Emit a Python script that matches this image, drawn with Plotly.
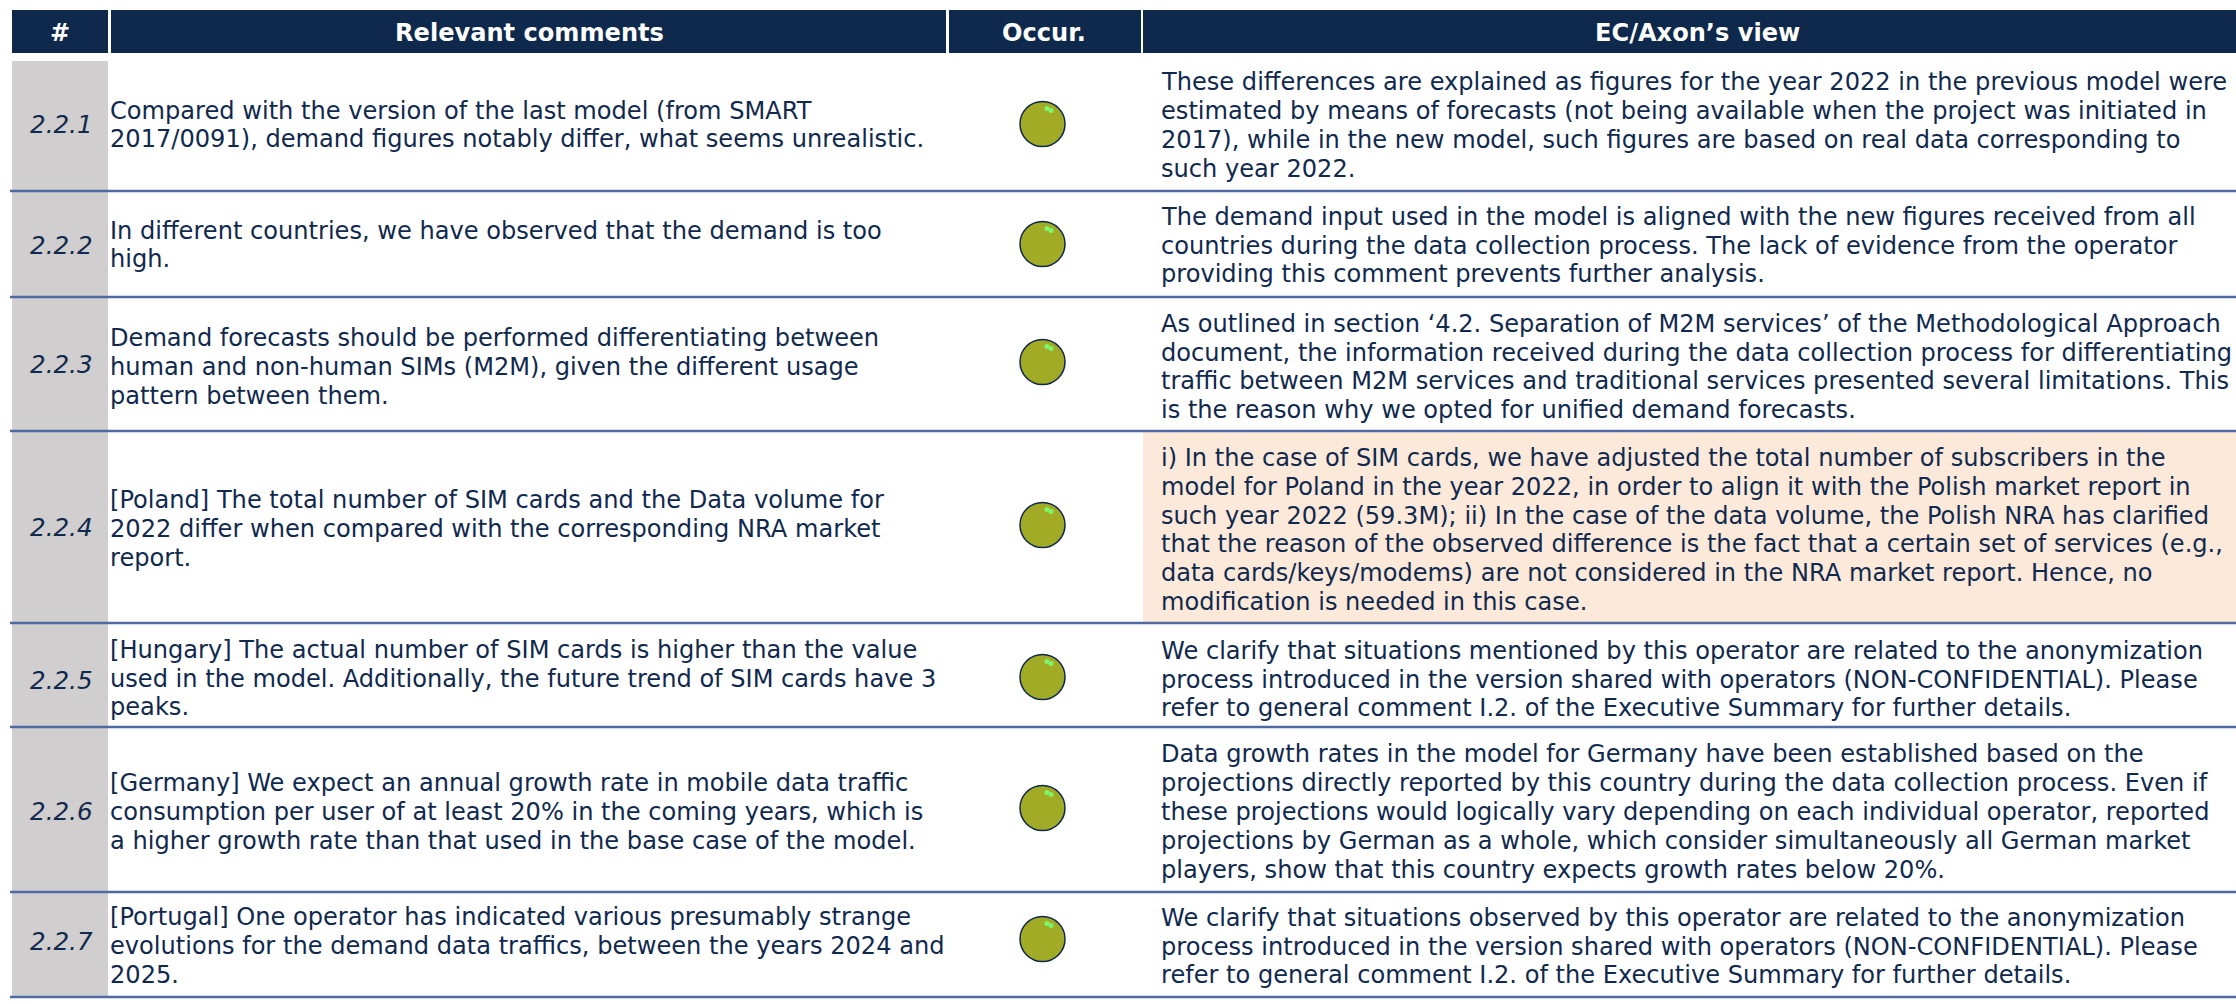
import plotly.graph_objects as go

# ---------- content ----------
headers = ["#", "Relevant comments", "Occur.", "EC/Axon’s view"]
ids = ["2.2.1", "2.2.2", "2.2.3", "2.2.4", "2.2.5", "2.2.6", "2.2.7"]
comments = [
    ["Compared with the version of the last model (from SMART",
     "2017/0091), demand figures notably differ, what seems unrealistic."],
    ["In different countries, we have observed that the demand is too",
     "high."],
    ["Demand forecasts should be performed differentiating between",
     "human and non-human SIMs (M2M), given the different usage",
     "pattern between them."],
    ["[Poland] The total number of SIM cards and the Data volume for",
     "2022 differ when compared with the corresponding NRA market",
     "report."],
    ["[Hungary] The actual number of SIM cards is higher than the value",
     "used in the model. Additionally, the future trend of SIM cards have 3",
     "peaks."],
    ["[Germany] We expect an annual growth rate in mobile data traffic",
     "consumption per user of at least 20% in the coming years, which is",
     "a higher growth rate than that used in the base case of the model."],
    ["[Portugal] One operator has indicated various presumably strange",
     "evolutions for the demand data traffics, between the years 2024 and",
     "2025."],
]
views = [
    ["These differences are explained as figures for the year 2022 in the previous model were",
     "estimated by means of forecasts (not being available when the project was initiated in",
     "2017), while in the new model, such figures are based on real data corresponding to",
     "such year 2022."],
    ["The demand input used in the model is aligned with the new figures received from all",
     "countries during the data collection process. The lack of evidence from the operator",
     "providing this comment prevents further analysis."],
    ["As outlined in section ‘4.2. Separation of M2M services’ of the Methodological Approach",
     "document, the information received during the data collection process for differentiating",
     "traffic between M2M services and traditional services presented several limitations. This",
     "is the reason why we opted for unified demand forecasts."],
    ["i) In the case of SIM cards, we have adjusted the total number of subscribers in the",
     "model for Poland in the year 2022, in order to align it with the Polish market report in",
     "such year 2022 (59.3M); ii) In the case of the data volume, the Polish NRA has clarified",
     "that the reason of the observed difference is the fact that a certain set of services (e.g.,",
     "data cards/keys/modems) are not considered in the NRA market report. Hence, no",
     "modification is needed in this case."],
    ["We clarify that situations mentioned by this operator are related to the anonymization",
     "process introduced in the version shared with operators (NON-CONFIDENTIAL). Please",
     "refer to general comment I.2. of the Executive Summary for further details."],
    ["Data growth rates in the model for Germany have been established based on the",
     "projections directly reported by this country during the data collection process. Even if",
     "these projections would logically vary depending on each individual operator, reported",
     "projections by German as a whole, which consider simultaneously all German market",
     "players, show that this country expects growth rates below 20%."],
    ["We clarify that situations observed by this operator are related to the anonymization",
     "process introduced in the version shared with operators (NON-CONFIDENTIAL). Please",
     "refer to general comment I.2. of the Executive Summary for further details."],
]
highlighted_view = ["2.2.4"]

# ---------- geometry (page pixels) ----------
W, H = 2236, 1004
HEAD_TOP, HEAD_BOTTOM = 10, 53
COLS = [(12, 108), (111, 946), (949, 1141), (1143, 2236)]
HEAD_X = [60, 529, 1044, 1697]
ROW_TOP = 61
ROW_LINES = [191, 297, 431, 623, 727, 892, 997]
ID_Y = [124, 245, 364, 527, 680, 811, 941]
COMMENT_Y = [125, 245, 367, 529, 678.5, 812, 946]
VIEW_Y = [125.5, 245.5, 367, 530, 679.5, 812, 946.5]
DOT_Y = [124, 244, 362, 525, 677, 808, 939]
DOT_X = 1042.5
TEXT_X_COMMENT, TEXT_X_VIEW = 108, 1158.5
PITCH = 28.9
FS = 24.1
FONT = "DejaVu Sans, Verdana, sans-serif"
NAVY = "#0E294B"
TEXT = "#10294D"
RULE = "#4F69A3"
GRAY = "#D0CECE"
PEACH = "#FDE9DA"
OLIVE = "#A2AB26"
SHINE = "#7DF56B"

shapes, ann = [], []


def rect(x0, y0, x1, y1, color):
    shapes.append(dict(type="rect", x0=x0, x1=x1, y0=y0, y1=y1, fillcolor=color,
                       line=dict(width=0), layer="below"))


def label(x, y, text, size=FS, color=TEXT, anchor="left", bold=False, italic=False):
    ann.append(dict(x=x, y=y, text=text, xref="x", yref="y", showarrow=False, xanchor=anchor,
                    yanchor="middle", align=anchor,
                    font=dict(family=FONT, size=size, color=color,
                              weight="bold" if bold else "normal",
                              style="italic" if italic else "normal")))


for (x0, x1), hx, h in zip(COLS, HEAD_X, headers):
    rect(x0, HEAD_TOP, x1, HEAD_BOTTOM, NAVY)
    label(hx, (HEAD_TOP + HEAD_BOTTOM) / 2 + 1.5, h, size=24.1, color="white",
          anchor="center", bold=True)

tops = [ROW_TOP] + ROW_LINES[:-1]
for i, rid in enumerate(ids):
    top, bottom = tops[i], ROW_LINES[i]
    rect(COLS[0][0], top, COLS[0][1], bottom, GRAY)
    if rid in highlighted_view:
        rect(COLS[3][0], top + 1, COLS[3][1], bottom, PEACH)
    label((COLS[0][0] + COLS[0][1]) / 2 + 1, ID_Y[i], rid, size=24.6, anchor="center", italic=True)
    for cell, centre, tx in ((comments[i], COMMENT_Y[i], TEXT_X_COMMENT),
                             (views[i], VIEW_Y[i], TEXT_X_VIEW)):
        n = len(cell)
        for k, line in enumerate(cell):
            label(tx, centre + (k - (n - 1) / 2) * PITCH, line)
    shapes.append(dict(type="line", x0=10, x1=W, y0=bottom, y1=bottom,
                       line=dict(color=RULE, width=2.5), layer="above"))

fig = go.Figure()
fig.add_trace(go.Scatter(x=[DOT_X] * len(ids), y=DOT_Y, mode="markers", hoverinfo="skip",
                         marker=dict(size=45, color=OLIVE, line=dict(color=NAVY, width=1.5))))
# small elongated glint on each dot, two overlapping dots offset from each dot's centre
for dx, dy in ((4.5, -15.5), (8.5, -13.5)):
    fig.add_trace(go.Scatter(x=[DOT_X + dx] * len(ids), y=[d + dy for d in DOT_Y], mode="markers",
                             hoverinfo="skip", marker=dict(size=5, color=SHINE, line=dict(width=0))))
fig.update_layout(
    width=W, height=H, margin=dict(l=0, r=0, t=0, b=0), showlegend=False,
    paper_bgcolor="white", plot_bgcolor="white", shapes=shapes, annotations=ann,
    xaxis=dict(range=[0, W], visible=False, fixedrange=True),
    yaxis=dict(range=[H, 0], visible=False, fixedrange=True),
)
fig.write_html("out.html", post_script="document.body.style.margin='0';document.body.style.overflow='hidden';",
               config=dict(displayModeBar=False))
